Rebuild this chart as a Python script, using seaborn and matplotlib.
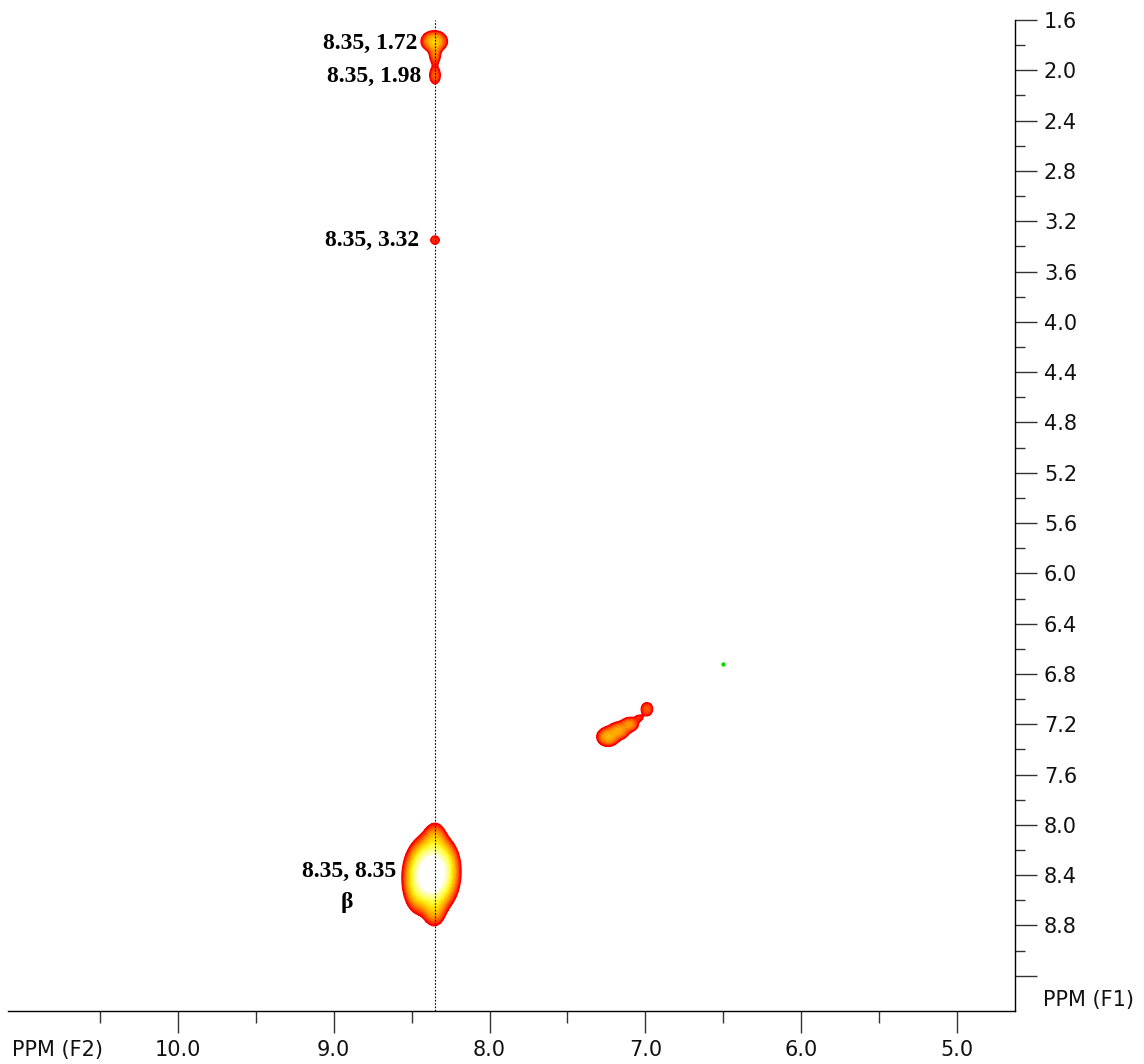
import numpy as np
import pandas as pd
import matplotlib
matplotlib.use('Agg')
import matplotlib.pyplot as plt
from matplotlib.colors import LinearSegmentedColormap
import seaborn as sns

# ------------------------------------------------------------
# data: 2D NMR cross peaks (F2 / F1 shifts in ppm, intensity, widths)
# ------------------------------------------------------------
peak_f2 = [8.37, 8.35, 8.355, 8.46, 8.29,
           8.355, 8.35, 8.35, 8.35,
           7.24, 7.17, 7.10, 7.04, 6.99]
peak_f1 = [8.39, 8.13, 8.66, 8.47, 8.30,
           1.77, 1.87, 2.04, 3.35,
           7.30, 7.25, 7.20, 7.15, 7.08]
peak_int = [110, 7, 7, 10, 6,
            9, 4, 3, 2,
            7, 6, 5, 1.5, 3]
peak_w2 = [0.060, 0.035, 0.035, 0.04, 0.04,
           0.04, 0.02, 0.022, 0.022,
           0.036, 0.035, 0.03, 0.02, 0.024]
peak_w1 = [0.108, 0.07, 0.07, 0.10, 0.08,
           0.040, 0.05, 0.045, 0.027,
           0.038, 0.035, 0.03, 0.02, 0.034]

label_text = ['8.35, 1.72', '8.35, 1.98', '8.35, 3.32', '8.35, 8.35', '\u03b2']
label_x = [8.464, 8.438, 8.451, 8.60, 8.914]
label_y = [1.783, 2.052, 3.354, 8.37, 8.62]
label_ha = ['right', 'right', 'right', 'right', 'center']

diag_f2 = [6.50]
diag_f1 = [6.72]

trace_f2 = 8.35

x_major = [10.0, 9.0, 8.0, 7.0, 6.0, 5.0]
x_minor = [10.5, 9.5, 8.5, 7.5, 6.5, 5.5]
y_major = [1.6, 2.0, 2.4, 2.8, 3.2, 3.6, 4.0, 4.4, 4.8, 5.2, 5.6, 6.0,
           6.4, 6.8, 7.2, 7.6, 8.0, 8.4, 8.8, 9.2]
y_minor = [1.8, 2.2, 2.6, 3.0, 3.4, 3.8, 4.2, 4.6, 5.0, 5.4, 5.8, 6.2,
           6.6, 7.0, 7.4, 7.8, 8.2, 8.6, 9.0]

peaks = pd.DataFrame({'f2': peak_f2, 'f1': peak_f1, 'amp': peak_int,
                      'w2': peak_w2, 'w1': peak_w1})

# ------------------------------------------------------------
# build the spectrum surface from the peak table
# ------------------------------------------------------------
xs = np.linspace(4.63, 11.09, 1400)
ys = np.linspace(1.6, 9.48, 1700)
X, Y = np.meshgrid(xs, ys)
Z = np.zeros_like(X)
for _, p in peaks.iterrows():
    Z += p.amp * np.exp(-((X - p.f2) ** 2 / (2 * p.w2 ** 2)
                          + (Y - p.f1) ** 2 / (2 * p.w1 ** 2)))

levels = np.geomspace(1, 40, 18)
cmap = LinearSegmentedColormap.from_list(
    'nmr', ['#ff0000', '#ff3000', '#ff7000', '#ffa800', '#ffdc00', '#ffff40', '#ffffb0'])
band_colors = [cmap(i / (len(levels) - 2)) for i in range(len(levels) - 1)]

# ------------------------------------------------------------
# plot
# ------------------------------------------------------------
sns.set_theme(style='white')
plt.rcParams['font.family'] = ['DejaVu Sans']

fig = plt.figure(figsize=(11.44, 10.64), dpi=100)
ax = fig.add_axes([0.007, 0.0498, 0.880, 0.9314])

ax.contourf(X, Y, Z, levels=levels, colors=band_colors, zorder=2)
ax.contour(X, Y, Z, levels=[levels[0]], colors='#ff0000', linewidths=1.2, zorder=3)

sns.scatterplot(x=diag_f2, y=diag_f1, color='#00e000', s=10, linewidth=0,
                ax=ax, zorder=4)

ax.axvline(trace_f2, color='black', lw=0.8, ls=(0, (1.5, 1.5)), zorder=5)

for t, lx, ly, ha in zip(label_text, label_x, label_y, label_ha):
    ax.text(lx, ly, t, ha=ha, va='center', fontsize=17, fontweight='bold',
            family='Liberation Serif', color='black', zorder=6)

ax.set_xlim(11.09, 4.63)
ax.set_ylim(9.48, 1.6)

ax.set_xticks(x_major)
ax.set_xticklabels([f'{v:.1f}' for v in x_major])
ax.set_xticks(x_minor, minor=True)
ax.set_yticks(y_major)
ax.set_yticklabels([f'{v:.1f}' for v in y_major[:-1]] + [''])
ax.set_yticks(y_minor, minor=True)

ax.yaxis.tick_right()
ax.yaxis.set_label_position('right')
for side in ['left', 'top']:
    ax.spines[side].set_visible(False)
for side in ['bottom', 'right']:
    ax.spines[side].set_color('black')
    ax.spines[side].set_linewidth(1.0)

ax.tick_params(axis='both', which='major', direction='out', length=16,
               width=1.0, color='#333333', labelsize=15, labelcolor='#111111', pad=5)
ax.tick_params(axis='x', which='minor', direction='out', length=8.5,
               width=1.0, color='#333333')
ax.tick_params(axis='y', which='minor', direction='out', length=7,
               width=1.0, color='#333333')
ax.tick_params(axis='y', which='both', left=False, right=True)
ax.tick_params(axis='x', which='both', bottom=True, top=False)
ax.grid(False)

fig.text(12 / 1144, 1 - 1050 / 1064, 'PPM (F2)', fontsize=15, color='#111111',
         ha='left', va='center')
fig.text(1043 / 1144, 1 - 1000 / 1064, 'PPM (F1)', fontsize=15, color='#111111',
         ha='left', va='center')

fig.savefig('out.png', dpi=100)
plt.close(fig)
